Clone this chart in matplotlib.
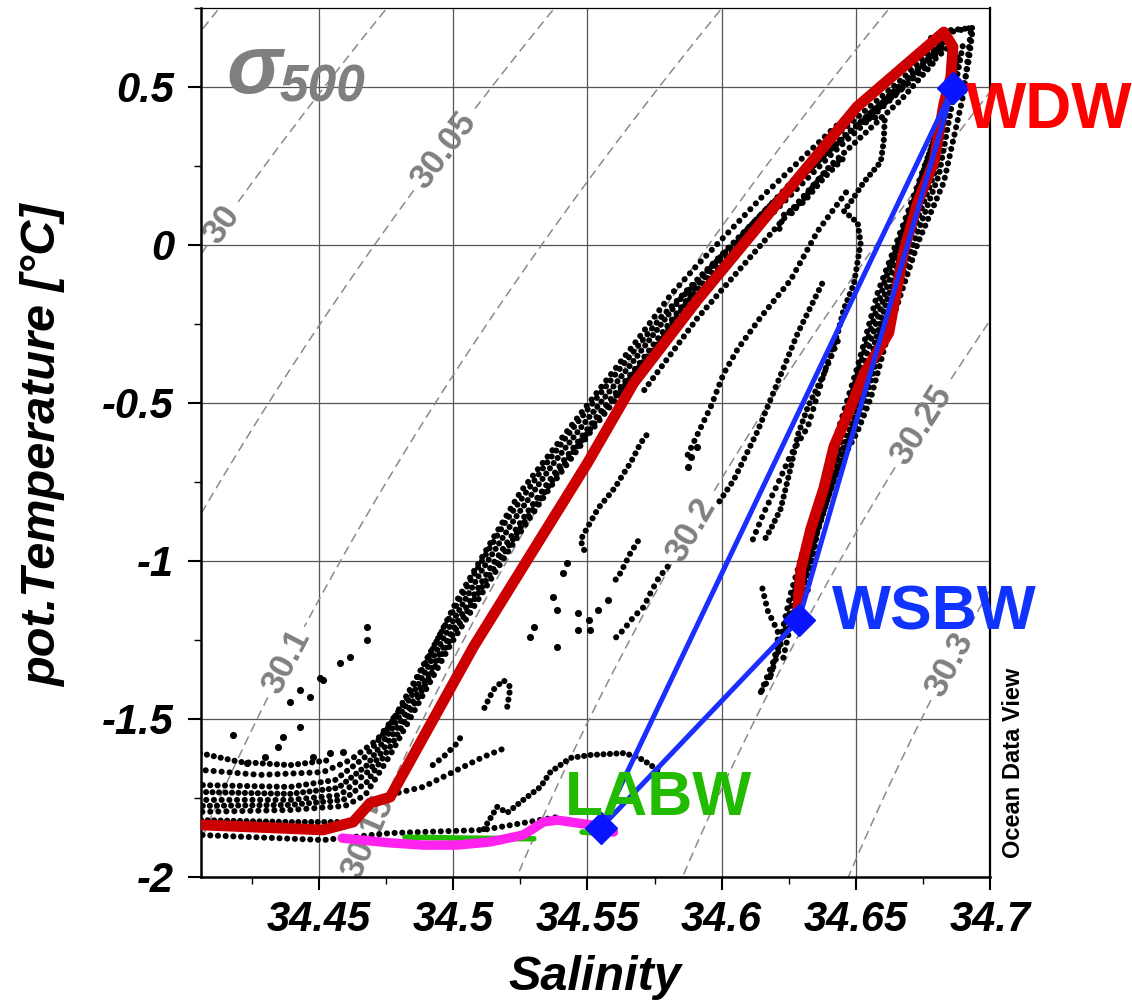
import numpy as np
import matplotlib
matplotlib.use("Agg")
import matplotlib.pyplot as plt
from matplotlib.ticker import MultipleLocator

plt.rcParams['font.family'] = ['Liberation Sans', 'DejaVu Sans']

# ---------------- data (Salinity, pot. temperature) ----------------
# black CTD traces
a0_S = [34.4056, 34.4205, 34.4392, 34.4541]
a0_T = [-1.608, -1.636, -1.646, -1.630]
a1_S = [34.4056, 34.4280, 34.4515, 34.4616, 34.4716, 34.4813, 34.4903, 34.5015, 34.5127, 34.5250, 34.5399, 34.5500, 34.5672, 34.5810, 34.5910, 34.6157, 34.6414, 34.6672, 34.6802, 34.6929]
a1_T = [-1.661, -1.677, -1.668, -1.630, -1.566, -1.456, -1.313, -1.123, -0.959, -0.782, -0.617, -0.506, -0.316, -0.158, -0.063, 0.158, 0.367, 0.551, 0.665, 0.687]
a1b_S = [34.4056, 34.4392, 34.4560, 34.4672, 34.4765, 34.4858, 34.4970, 34.5082, 34.5194, 34.5343, 34.5455, 34.5623, 34.5772, 34.5922, 34.6183, 34.6444, 34.6687, 34.6854]
a1b_T = [-1.709, -1.715, -1.693, -1.620, -1.519, -1.377, -1.203, -1.035, -0.877, -0.696, -0.570, -0.389, -0.231, -0.098, 0.127, 0.332, 0.506, 0.633]
a1c_S = [34.4056, 34.4392, 34.4571, 34.4679, 34.4776, 34.4873, 34.4993, 34.5108, 34.5231, 34.5369, 34.5504, 34.5660, 34.5843, 34.6164, 34.6425, 34.6675, 34.6836]
a1c_T = [-1.731, -1.737, -1.718, -1.646, -1.525, -1.386, -1.199, -1.028, -0.864, -0.696, -0.547, -0.380, -0.174, 0.111, 0.316, 0.513, 0.639]
a2_S = [34.4056, 34.4392, 34.4578, 34.4690, 34.4791, 34.4888, 34.5015, 34.5138, 34.5269, 34.5399, 34.5549, 34.5698, 34.5910, 34.6146, 34.6407, 34.6668, 34.6817]
a2_T = [-1.756, -1.756, -1.741, -1.661, -1.528, -1.389, -1.193, -1.022, -0.854, -0.696, -0.528, -0.370, -0.127, 0.095, 0.332, 0.522, 0.649]
a2b_S = [34.4056, 34.4392, 34.4590, 34.4679, 34.4776, 34.4880, 34.5000, 34.5119, 34.5250, 34.5381, 34.5530, 34.5698, 34.5895, 34.6146, 34.6407, 34.6661, 34.6828]
a2b_T = [-1.775, -1.772, -1.756, -1.699, -1.573, -1.415, -1.231, -1.066, -0.896, -0.731, -0.560, -0.380, -0.155, 0.079, 0.307, 0.497, 0.642]
a3_S = [34.4056, 34.4392, 34.4597, 34.4672, 34.4765, 34.4877, 34.4989, 34.5101, 34.5231, 34.5362, 34.5511, 34.5698, 34.5884, 34.6146, 34.6407, 34.6649, 34.6836]
a3_T = [-1.794, -1.788, -1.775, -1.741, -1.614, -1.440, -1.266, -1.111, -0.934, -0.766, -0.592, -0.386, -0.184, 0.063, 0.285, 0.475, 0.633]
a4_S = [34.5698, 34.5910, 34.6146, 34.6407, 34.6668, 34.6798]
a4_T = [-0.475, -0.231, 0.000, 0.253, 0.459, 0.585]
a5_S = [34.4056, 34.4392, 34.4578]
a5_T = [-1.820, -1.826, -1.826]
bot_S = [34.4056, 34.4515, 34.4765, 34.5112, 34.5388]
bot_T = [-1.867, -1.883, -1.861, -1.851, -1.810]
tip_S = [34.6761, 34.6854, 34.6936, 34.6921, 34.6892]
tip_T = [0.649, 0.680, 0.687, 0.585, 0.459]
c1_S = [34.6817, 34.6679, 34.6582, 34.6507, 34.6433, 34.6381, 34.6306, 34.6257, 34.6209, 34.6146]
c1_T = [0.392, 0.070, -0.149, -0.383, -0.589, -0.769, -0.962, -1.104, -1.285, -1.415]
c2_S = [34.6929, 34.6903, 34.6828, 34.6731, 34.6630, 34.6556, 34.6507, 34.6433, 34.6358, 34.6321]
c2_T = [0.680, 0.484, 0.199, 0.006, -0.253, -0.484, -0.589, -0.706, -0.899, -1.092]
c3_S = [34.6873, 34.6780, 34.6687, 34.6593, 34.6526, 34.6463, 34.6399, 34.6340, 34.6287, 34.6239]
c3_T = [0.585, 0.237, 0.016, -0.237, -0.459, -0.617, -0.775, -0.949, -1.123, -1.250]
c4_S = [34.6847, 34.6735, 34.6642, 34.6556, 34.6481, 34.6422, 34.6362, 34.6302, 34.6265, 34.6228]
c4_T = [0.491, 0.158, -0.063, -0.301, -0.522, -0.687, -0.854, -1.035, -1.171, -1.313]
c5_S = [34.6899, 34.6810, 34.6713, 34.6616, 34.6541, 34.6485, 34.6418, 34.6351, 34.6306]
c5_T = [0.633, 0.222, 0.000, -0.253, -0.475, -0.608, -0.744, -0.924, -1.092]
c6_S = [34.6832, 34.6705, 34.6612, 34.6530, 34.6455, 34.6399, 34.6332, 34.6280, 34.6243, 34.6183]
c6_T = [0.443, 0.111, -0.104, -0.342, -0.560, -0.728, -0.908, -1.070, -1.203, -1.361]
c7_S = [34.6884, 34.6795, 34.6698, 34.6604, 34.6534, 34.6474, 34.6407, 34.6343, 34.6295]
c7_T = [0.611, 0.231, 0.006, -0.244, -0.465, -0.617, -0.760, -0.937, -1.108]
w_S = [34.6493, 34.6556, 34.6608, 34.6604, 34.6593, 34.6530, 34.6481, 34.6455, 34.6507, 34.6518, 34.6493, 34.6455, 34.6433, 34.6381, 34.6321, 34.6284, 34.6257, 34.6220, 34.6183, 34.6157]
w_T = [0.373, 0.402, 0.405, 0.329, 0.263, 0.199, 0.136, 0.108, 0.070, 0.006, -0.123, -0.203, -0.278, -0.408, -0.513, -0.601, -0.706, -0.835, -0.899, -0.937]
i1_S = [34.6470, 34.6358, 34.6257, 34.6146, 34.6060, 34.6007, 34.5959, 34.5873]
i1_T = [0.174, 0.044, -0.111, -0.228, -0.329, -0.408, -0.513, -0.665]
i2_S = [34.6381, 34.6284, 34.6209, 34.6134, 34.6045, 34.5985]
i2_T = [-0.111, -0.278, -0.434, -0.589, -0.744, -0.820]
i3_S = [34.6433, 34.6381, 34.6321, 34.6257, 34.6209, 34.6157, 34.6108]
i3_T = [-0.304, -0.408, -0.576, -0.665, -0.756, -0.848, -0.949]
i4_S = [34.6455, 34.6381, 34.6306, 34.6231, 34.6209]
i4_T = [0.275, 0.212, 0.136, 0.095, 0.032]
i5_S = [34.6455, 34.6403, 34.6340, 34.6302, 34.6250]
i5_T = [0.279, 0.247, 0.184, 0.142, 0.089]
ws_S = [34.6146, 34.6172, 34.6209, 34.6209, 34.6183, 34.6146]
ws_T = [-1.066, -1.158, -1.222, -1.259, -1.364, -1.415]
r1_S = [34.5735, 34.5698, 34.5672, 34.5660, 34.5631, 34.5604, 34.5575, 34.5541, 34.5511, 34.5474, 34.5492]
r1_T = [-0.585, -0.627, -0.671, -0.690, -0.728, -0.766, -0.797, -0.832, -0.877, -0.934, -0.975]
r2_S = [34.5810, 34.5765, 34.5735, 34.5709, 34.5672, 34.5634, 34.5597]
r2_T = [-1.006, -1.054, -1.101, -1.146, -1.177, -1.218, -1.250]
r3_S = [34.5698, 34.5660, 34.5623, 34.5604]
r3_T = [-0.924, -0.975, -1.038, -1.060]
bl_S = [34.5112, 34.5164, 34.5201, 34.5261, 34.5325, 34.5362, 34.5437, 34.5511, 34.5634, 34.5687, 34.5724, 34.5761]
bl_T = [-1.851, -1.778, -1.797, -1.756, -1.715, -1.668, -1.623, -1.614, -1.608, -1.620, -1.639, -1.661]
lo1_S = [34.4914, 34.4963, 34.5015, 34.5037]
lo1_T = [-1.652, -1.620, -1.576, -1.544]
lam_S = [34.5112, 34.5149, 34.5187, 34.5213, 34.5201]
lam_T = [-1.472, -1.408, -1.377, -1.399, -1.462]
lo2_S = [34.4791, 34.4888, 34.5015, 34.5112, 34.5201]
lo2_T = [-1.734, -1.715, -1.661, -1.620, -1.589]

dots_S = [34.4179, 34.4231, 34.4299, 34.4347, 34.4392, 34.4429, 34.4466, 34.4504, 34.4515, 34.4578,
          34.4616, 34.4679, 34.4679, 34.4366, 34.4429, 34.4478, 34.4541, 34.4590,
          34.5425, 34.5410, 34.5463, 34.5373, 34.5388, 34.5299, 34.5287, 34.5388, 34.5463, 34.5504,
          34.5511, 34.5873, 34.5884, 34.5910, 34.5575, 34.5541]
dots_T = [-1.551, -1.639, -1.620, -1.589, -1.446, -1.408, -1.430, -1.370, -1.377, -1.323,
          -1.304, -1.209, -1.250, -1.557, -1.525, -1.620, -1.608, -1.604,
          -1.006, -1.038, -1.165, -1.114, -1.155, -1.209, -1.241, -1.272, -1.218, -1.187,
          -1.218, -0.703, -0.671, -0.639, -1.123, -1.155]

# red mean profile
red_S = [34.4056, 34.4515, 34.4627, 34.4690, 34.4765, 34.5075, 34.5299, 34.5500, 34.5672, 34.5910, 34.6504,
         34.6828, 34.6862, 34.6854, 34.6828, 34.6791, 34.6731, 34.6679, 34.6623, 34.6530, 34.6481, 34.6418,
         34.6381, 34.6332, 34.6295, 34.6284]
red_T = [-1.835, -1.851, -1.826, -1.766, -1.747, -1.272, -0.965, -0.690, -0.437, -0.174, 0.437,
         0.674, 0.627, 0.532, 0.446, 0.263, 0.136, -0.019, -0.278, -0.408, -0.513, -0.639,
         -0.769, -0.899, -1.028, -1.146]
# green and magenta profiles
grn1_S = [34.482, 34.505, 34.530]
grn1_T = [-1.874, -1.877, -1.879]
grn2_S = [34.548, 34.556]
grn2_T = [-1.858, -1.862]
mag_S = [34.4586, 34.4765, 34.4888, 34.5015, 34.5138, 34.5261, 34.5336, 34.5388, 34.5511, 34.5597]
mag_T = [-1.877, -1.892, -1.899, -1.899, -1.889, -1.867, -1.826, -1.820, -1.835, -1.858]

# water mass end members
wm_names = ['WDW', 'WSBW', 'LABW']
wm_S = [34.6862, 34.6287, 34.5549]
wm_T = [0.497, -1.187, -1.845]

xticks = [34.45, 34.5, 34.55, 34.6, 34.65, 34.7]
xticklabels = ['34.45', '34.5', '34.55', '34.6', '34.65', '34.7']
yticks = [-2, -1.5, -1, -0.5, 0, 0.5]
yticklabels = ['-2', '-1.5', '-1', '-0.5', '0', '0.5']
sig_levels = [29.95, 30.0, 30.05, 30.1, 30.15, 30.2, 30.25, 30.3, 30.35, 30.4]


# ---------------- EOS-80 density at 500 dbar ----------------
def sigma_p(S, t, p_dbar=500.0):
    p = p_dbar / 10.0
    rw = (999.842594 + 6.793952e-2 * t - 9.095290e-3 * t**2 + 1.001685e-4 * t**3
          - 1.120083e-6 * t**4 + 6.536332e-9 * t**5)
    r0 = (rw + S * (0.824493 - 4.0899e-3 * t + 7.6438e-5 * t**2 - 8.2467e-7 * t**3 + 5.3875e-9 * t**4)
          + S**1.5 * (-5.72466e-3 + 1.0227e-4 * t - 1.6546e-6 * t**2) + 4.8314e-4 * S**2)
    kw = 19652.21 + 148.4206 * t - 2.327105 * t**2 + 1.360477e-2 * t**3 - 5.155288e-5 * t**4
    k0 = (kw + S * (54.6746 - 0.603459 * t + 1.09987e-2 * t**2 - 6.1670e-5 * t**3)
          + S**1.5 * (7.944e-2 + 1.6483e-2 * t - 5.3009e-4 * t**2))
    aw = 3.239908 + 1.43713e-3 * t + 1.16092e-4 * t**2 - 5.77905e-7 * t**3
    A = aw + S * (2.2838e-3 - 1.0981e-5 * t - 1.6078e-6 * t**2) + 1.91075e-4 * S**1.5
    bw = 8.50935e-5 - 6.12293e-6 * t + 5.2787e-8 * t**2
    B = bw + S * (-9.9348e-7 + 2.0816e-8 * t + 9.1697e-10 * t**2)
    K = k0 + A * p + B * p**2
    return r0 / (1 - p / K) - 1000.0


W, H = 1132, 1006
fig = plt.figure(figsize=(W / 100, H / 100), dpi=100)
L, R, TOP, BOT = 201, 990, 8, 877
ax = fig.add_axes([L / W, 1 - BOT / H, (R - L) / W, (BOT - TOP) / H])
ax.set_xlim(34.406, 34.7)
ax.set_ylim(-2.0, 0.75)

# grid
ax.set_xticks(xticks)
ax.set_yticks(yticks)
ax.grid(True, color='#555555', lw=0.9, zorder=0)
ax.set_axisbelow(True)

# density contours
sg, tg = np.meshgrid(np.linspace(34.3, 34.8, 300), np.linspace(-2.3, 1.0, 300))
sig = sigma_p(sg, tg)
cs = ax.contour(sg, tg, sig, levels=sig_levels, colors='#8a8a8a', linewidths=1.1,
                linestyles=[(0, (6, 3.5))], zorder=1)
label_pos = [(34.4149, 0.057), (34.497, 0.294), (34.4384, -1.323), (34.4675, -1.870),
             (34.5896, -0.905), (34.6754, -0.576), (34.6836, -1.323)]
lbls = ax.clabel(cs, manual=label_pos, inline=True, inline_spacing=6,
                 fmt=lambda v: f'{round(v, 2):g}', fontsize=25, colors='#808080')
for t in lbls:
    t.set_fontweight('bold')
    t.set_clip_on(True)
    t.set_zorder(1.5)

# black traces (dotted to mimic point data)
traces = [(a0_S, a0_T), (a1_S, a1_T), (a1b_S, a1b_T), (a1c_S, a1c_T), (a2_S, a2_T), (a2b_S, a2b_T),
          (a3_S, a3_T), (a4_S, a4_T), (a5_S, a5_T), (bot_S, bot_T), (tip_S, tip_T),
          (c1_S, c1_T), (c2_S, c2_T), (c3_S, c3_T), (c4_S, c4_T), (c5_S, c5_T), (c6_S, c6_T),
          (c7_S, c7_T), (w_S, w_T), (i1_S, i1_T), (i2_S, i2_T), (i3_S, i3_T), (i4_S, i4_T),
          (i5_S, i5_T), (ws_S, ws_T), (r1_S, r1_T), (r2_S, r2_T), (r3_S, r3_T), (bl_S, bl_T),
          (lo1_S, lo1_T), (lam_S, lam_T), (lo2_S, lo2_T)]
gaps = [1.15, 1.3, 1.2, 1.05, 1.25]
for k, (s, t) in enumerate(traces):
    g = gaps[k % len(gaps)]
    ax.plot(s, t, color='black', lw=4.4, linestyle=((k * 0.37) % g, (0.01, g)),
            dash_capstyle='round', zorder=3)
ax.scatter(dots_S, dots_T, s=26, color='black', linewidths=0, zorder=3)

# red mean profile
ax.plot(red_S, red_T, color='#cc0000', lw=7.8, solid_joinstyle='round', solid_capstyle='round', zorder=4)
# green and magenta
ax.plot(grn1_S, grn1_T, color='#22bb00', lw=4.0, solid_capstyle='round', zorder=4)
ax.plot(grn2_S, grn2_T, color='#22bb00', lw=4.0, solid_capstyle='round', zorder=4)
ax.plot(mag_S, mag_T, color='#ff22ee', lw=6.8, solid_capstyle='round', solid_joinstyle='round', zorder=5)

# mixing triangle
order = [0, 2, 1, 0]
ax.plot([wm_S[i] for i in order], [wm_T[i] for i in order], color='#1a2eff', lw=3.6, zorder=6)
ax.plot(wm_S, wm_T, linestyle='none', marker='D', markersize=16, color='#0a14ff', zorder=7)

# ticks & spines
ax.xaxis.set_minor_locator(MultipleLocator(0.025))
ax.yaxis.set_minor_locator(MultipleLocator(0.25))
ax.set_xticklabels(xticklabels)
ax.set_yticklabels(yticklabels)
ax.tick_params(which='major', direction='out', length=9.5, width=1.5, top=False, right=False)
ax.tick_params(which='minor', direction='out', length=5, width=1.0, top=False, right=False)
ax.tick_params(axis='x', which='major', pad=7)
ax.tick_params(axis='y', which='major', pad=10)
for lab in ax.get_xticklabels() + ax.get_yticklabels():
    lab.set_fontsize(30)
    lab.set_fontweight('bold')
    lab.set_fontstyle('italic')
ax.spines['left'].set_linewidth(1.8)
ax.spines['bottom'].set_linewidth(1.8)
ax.spines['right'].set_linewidth(1.6)
ax.spines['top'].set_linewidth(0.9)


def fpos(x, y):
    return x / W, 1 - y / H


fig.text(*fpos(595, 990), 'Salinity', ha='center', va='baseline', fontsize=35,
         fontweight='bold', fontstyle='italic')
fig.text(*fpos(44, 446), 'pot.Temperature [°C]', ha='center', va='center', rotation=90,
         fontsize=35, fontweight='bold', fontstyle='italic')

# sigma label
fig.text(*fpos(226, 93), 'σ', ha='left', va='baseline', fontsize=60, fontweight='bold',
         fontstyle='italic', color='#7f7f7f')
fig.text(*fpos(280, 102), '500', ha='left', va='baseline', fontsize=37, fontweight='bold',
         fontstyle='italic', color='#7f7f7f')

# water mass labels
fig.text(*fpos(966, 128), 'WDW', ha='left', va='baseline', fontsize=46, fontweight='bold', color='#ff0000')
fig.text(*fpos(832, 630), 'WSBW', ha='left', va='baseline', fontsize=45, fontweight='bold', color='#1133ff')
fig.text(*fpos(565, 815), 'LABW', ha='left', va='baseline', fontsize=45, fontweight='bold', color='#22bb00')

fig.text(*fpos(1013, 763), 'Ocean Data View', ha='center', va='center', rotation=90,
         fontsize=17, fontweight='bold')

fig.savefig('out.png', dpi=100)
